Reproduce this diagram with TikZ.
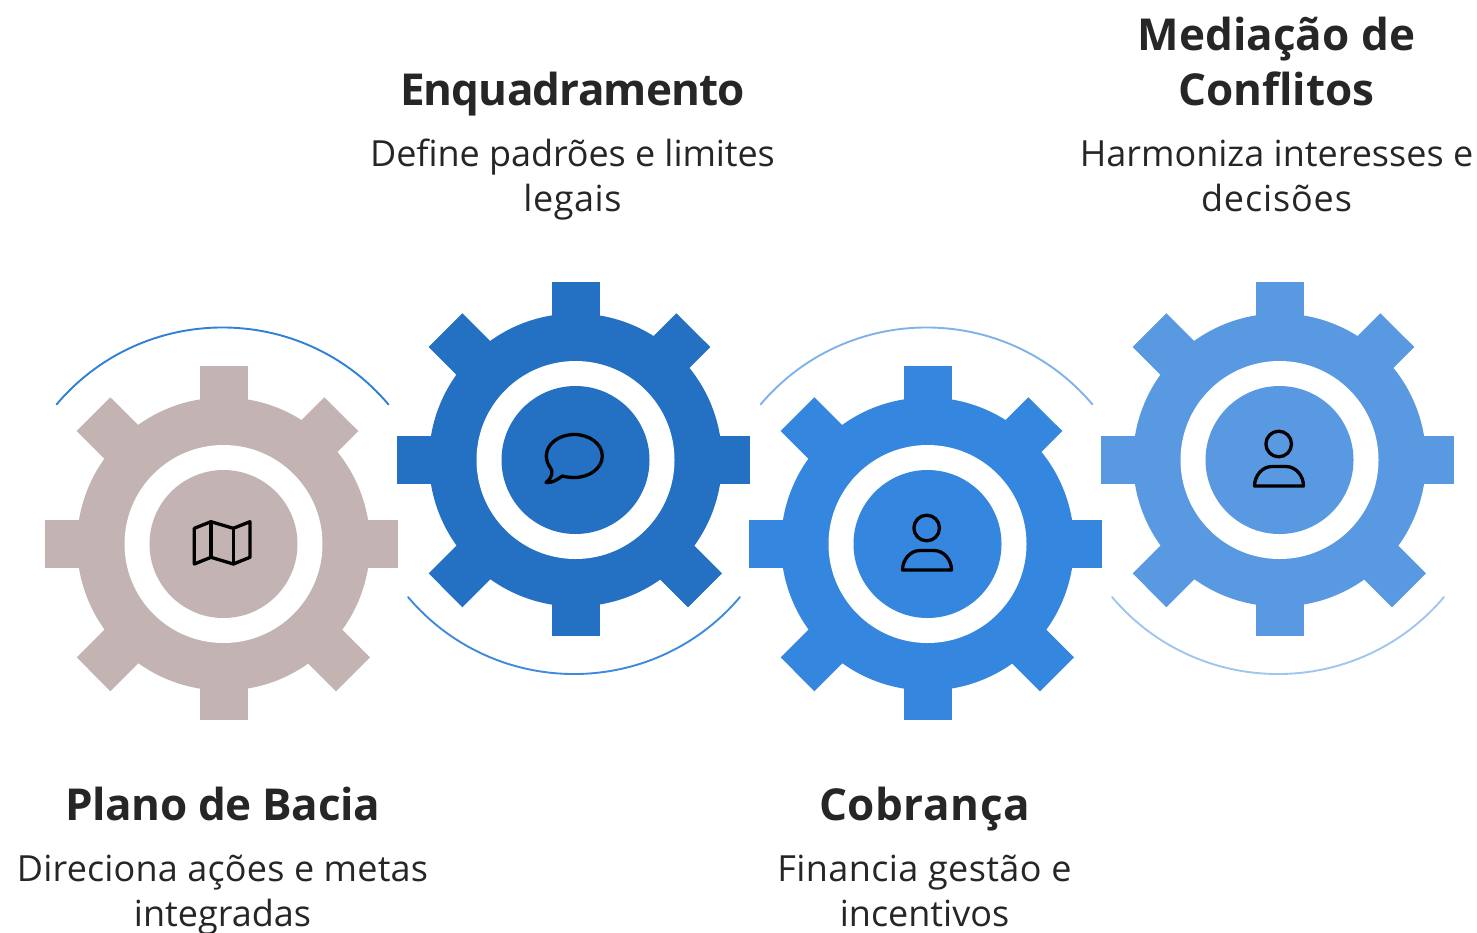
\documentclass[tikz,border=0pt]{standalone}
\usepackage{fontspec}
\setmainfont{Open Sans}
\definecolor{gearA}{HTML}{C4B3B3}
\definecolor{gearB}{HTML}{2470C2}
\definecolor{gearC}{HTML}{3486DE}
\definecolor{gearD}{HTML}{5899E2}
\definecolor{arcA}{HTML}{2F80D8}
\definecolor{arcB}{HTML}{3F8ADC}
\definecolor{arcC}{HTML}{7FB2E8}
\definecolor{arcD}{HTML}{A0C6EE}
\definecolor{ink}{HTML}{262626}
\newcommand{\spaced}[2]{\addfontfeature{LetterSpace=#1}#2}
\newcommand{\drawgear}[3]{%
\begin{scope}[shift={(#1,#2)}]
\fill[#3] (0,0) circle[radius=146.5pt];
\fill[#3] (-24,-178)--(24.5,-178)--(24.5,-100)--(-24,-100)--cycle;
\fill[#3] (-24,176)--(24.5,176)--(24.5,100)--(-24,100)--cycle;
\fill[#3] (-178.5,-24)--(-100,-24)--(-100,24.3)--(-178.5,24.3)--cycle;
\fill[#3] (174,-24)--(100,-24)--(100,24.3)--(174,24.3)--cycle;
\fill[#3] (-146.8,-113)--(-113.2,-146.7)--(-73,-106.7)--(-106.8,-73)--cycle;
\fill[#3] (100.8,-146.7)--(134.8,-113)--(94.8,-73)--(60.8,-106.7)--cycle;
\fill[#3] (146.5,113.3)--(112.5,147.3)--(72.5,107.3)--(106.5,73.3)--cycle;
\fill[#3] (-146.8,113.3)--(-113.2,147.3)--(-73.2,107.3)--(-106.8,73.3)--cycle;
\fill[white] (0,0) circle[radius=99pt];
\fill[#3] (0,0) circle[radius=74pt];
\end{scope}}
\newcommand{\personicon}[2]{%
\begin{scope}[shift={(#1,#2)},icon]
\draw (926.7,528) circle[radius=12.8pt];
\draw (902.5,570) .. controls (902.5,560) and (910,550.5) .. (920,550.5) -- (934,550.5) .. controls (944,550.5) and (951.5,560) .. (951.5,570) -- cycle;
\end{scope}}
\tikzset{
  x=1pt,y=-1pt,
  icon/.style={draw=black,line width=3.3pt,line join=round,line cap=round},
  swing/.style={line width=1.9pt,line cap=round},
  heading/.style={anchor=base,inner sep=0pt,font=\fontsize{44}{55}\selectfont\bfseries,text=ink},
  caption/.style={anchor=base,inner sep=0pt,font=\fontsize{36}{45}\selectfont,text=ink}
}
\begin{document}
\begin{tikzpicture}
\useasboundingbox (0,0) rectangle (1477,932);
\clip (0,0) rectangle (1477,932);
\drawgear{223.5}{544}{gearA}
\drawgear{575.5}{460}{gearB}
\drawgear{927.5}{544}{gearC}
\drawgear{1279.5}{460}{gearD}
% arcs
\draw[swing,arcA] (56.5,404.5) .. controls (143.3,301.8) and (301.7,301.8) .. (388.5,404.5);
\draw[swing,arcB] (408,597) .. controls (494.8,699.7) and (653.2,699.7) .. (740,597);
\draw[swing,arcC] (760.5,404.5) .. controls (847.3,301.8) and (1005.7,301.8) .. (1092.5,404.5);
\draw[swing,arcD] (1112,597) .. controls (1198.8,699.7) and (1357.2,699.7) .. (1444,597);
% icons
\begin{scope}[icon]
\draw (194.3,528.3)--(211,521.7)--(233.3,528.3)--(250,521.7)--(250,557.3)--(233.3,564)--(211,557.3)--(194.3,564)--cycle;
\draw (211,521.7)--(211,557.3);
\draw (233.3,528.3)--(233.3,564);
\draw (562.3,476) .. controls (566,477) and (570,477.5) .. (574.3,477.5) .. controls (589.8,477.5) and (602.3,467.9) .. (602.3,456) .. controls (602.3,444.1) and (589.8,434.5) .. (574.3,434.5) .. controls (558.8,434.5) and (546.3,444.1) .. (546.3,456) .. controls (546.3,460.5) and (548,464.5) .. (550.5,468) .. controls (553,471) and (553,477) .. (546,482.5) .. controls (552,483) and (557,480) .. (562.3,476) -- cycle;
\end{scope}
\personicon{0}{0}
\personicon{352}{-84}
% texts
\node[heading] (t1) at (222.5,820) {\spaced{-0.9}{Plano de Bacia}};
\node[caption] (c1a) at (222.5,881) {\spaced{0.5}{Direciona ações e metas}};
\node[caption] (c1b) at (222.5,926) {integradas};
\node[heading] (t2) at (572.5,105) {\spaced{-1.9}{Enquadramento}};
\node[caption] (c2a) at (572.5,166) {\spaced{-0.25}{Define padrões e limites}};
\node[caption] (c2b) at (572.5,211) {\spaced{1.5}{legais}};
\node[heading] (t3) at (924.5,820) {\spaced{1.3}{Cobrança}};
\node[caption] (c3a) at (924.5,881) {\spaced{1.1}{Financia gestão e}};
\node[caption] (c3b) at (924.5,926) {incentivos};
\node[heading] (t4a) at (1276.5,50) {Mediação de};
\node[heading] (t4b) at (1276.5,105) {Conflitos};
\node[caption] (c4a) at (1276.5,166) {Harmoniza interesses e};
\node[caption] (c4b) at (1276.5,211) {\spaced{2.4}{decisões}};
\end{tikzpicture}
\end{document}
